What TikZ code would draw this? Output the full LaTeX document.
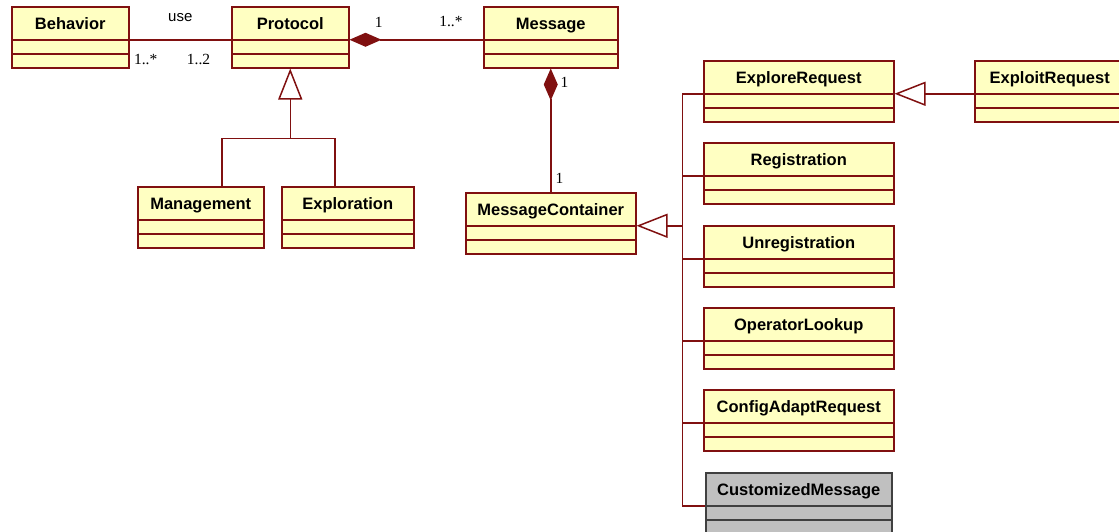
\documentclass[tikz,border=0pt]{standalone}
\usepackage{fontspec}
\setmainfont{Liberation Serif}
\setsansfont{Liberation Sans}
\usetikzlibrary{shapes.multipart,arrows.meta}

\definecolor{umlyellow}{RGB}{255,255,194}
\definecolor{umlred}{RGB}{128,16,16}
\definecolor{umlgray}{RGB}{192,192,192}
\definecolor{umldark}{RGB}{64,64,64}

\begin{document}
\begin{tikzpicture}[x=1pt,y=-1pt,line width=1.5pt,
  class/.style={rectangle split,rectangle split parts=3,draw=umlred,fill=umlyellow,
    anchor=north west,inner xsep=2pt,inner ysep=0pt,
    rectangle split empty part height=12.5pt,rectangle split empty part depth=0pt,
    font=\sffamily\bfseries\fontsize{16.5}{20}\selectfont,
    execute at begin node={\rule[-10pt]{0pt}{31.5pt}}},
  grayclass/.style={class,draw=umldark,fill=umlgray},
  assoc/.style={draw=umlred},
  comp/.style={assoc,-{Diamond[length=32pt,width=14pt]}},
  inh/.style={assoc,-{Triangle[open,length=31pt,width=24pt]}},
  mult/.style={font=\fontsize{15.5}{18}\selectfont,inner sep=1pt}]
  \useasboundingbox (0,0) rectangle (1119,531);
  \clip (0,0) rectangle (1119,531);

  % classes
  \node[class,minimum width=117pt] (beh) at (11,6) {Behavior};
  \node[class,minimum width=117pt] (prot) at (231,6) {Protocol};
  \node[class,minimum width=134pt] (msg) at (483,6) {Message};
  \node[class,minimum width=126pt] (mgmt) at (137,186) {Management};
  \node[class,minimum width=132pt] (expl) at (281,186) {Exploration};
  \node[class,minimum width=170pt] (mc) at (465,192) {MessageContainer};
  \node[class,minimum width=190pt] (er) at (703,60) {ExploreRequest};
  \node[class,minimum width=150pt] (exr) at (974,60) {ExploitRequest};
  \node[class,minimum width=190pt] (reg) at (703,142) {Registration};
  \node[class,minimum width=190pt] (unreg) at (703,225) {Unregistration};
  \node[class,minimum width=190pt] (oplk) at (703,307) {OperatorLookup};
  \node[class,minimum width=190pt] (cfg) at (703,389) {ConfigAdaptRequest};
  \node[grayclass,minimum width=186pt] (cm) at (705,472) {CustomizedMessage};

  % associations
  \draw[assoc] (beh.text split east) --
    node[pos=0.5,above=16pt,font=\sffamily\fontsize{15}{18}\selectfont,inner sep=1pt] {use}
    node[mult,pos=0.16,below=13pt] {1..*}
    node[mult,pos=0.68,below=13pt] {1..2} (prot.text split west);
  \draw[comp] (msg.text split west) --
    node[mult,pos=0.24,above=11pt] {1..*}
    node[mult,pos=0.78,above=11pt] {1} (prot.text split east);
  \draw[comp] (mc.north) --
    node[mult,pos=0.11,right=3pt] {1}
    node[mult,pos=0.89,right=8pt] {1} (msg.south);

  % Protocol subclasses
  \coordinate (pfork) at ([yshift=-70pt]prot.south);
  \draw[inh] (pfork) -- (prot.south);
  \draw[assoc] ([xshift=21pt]mgmt.north) |- (pfork) -| ([xshift=-13pt]expl.north);

  % MessageContainer subclasses
  \coordinate (bus) at ([xshift=46pt]mc.text split east);
  \draw[inh] (bus) -- (mc.text split east);
  \draw[assoc] (er.text split west) -| (bus |- cm.text split west) -- (cm.text split west);
  \foreach \c in {reg,unreg,oplk,cfg}
    \draw[assoc] (bus |- \c.text split west) -- (\c.text split west);
  \draw[inh] (exr.text split west) -- (er.text split east);
\end{tikzpicture}
\end{document}
